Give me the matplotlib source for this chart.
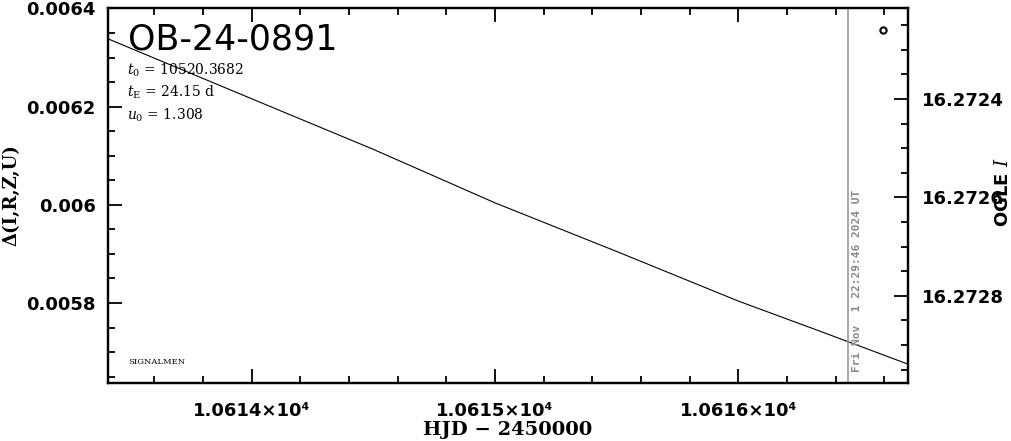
import numpy as np
import matplotlib
matplotlib.use('Agg')
import matplotlib.pyplot as plt
from matplotlib.ticker import MultipleLocator, FuncFormatter, FormatStrFormatter

# ===== data =====
event = "OB-24-0891"
t0_txt = "10520.3682"
tE_txt = "24.15"
u0_txt = "1.308"

# model curve (HJD-2450000, delta)
model_t = [10613.41, 10614.0, 10614.5, 10615.0, 10615.5, 10616.0, 10616.35, 10616.70]
model_d = [0.006338, 0.006216, 0.006113, 0.006004, 0.005905, 0.005804, 0.005740, 0.005675]

# OGLE I point
obs_t = [10616.595]
obs_mag = [16.27226]

now_t = 10616.453
now_label = "Fri Nov  1 22:29:46 2024 UT"

xlim = (10613.409, 10616.698)
ylim_d = (0.005637, 0.006401)
ylim_mag = (16.272977, 16.272215)

plt.rcParams['font.family'] = ['DejaVu Sans']
plt.rcParams['mathtext.fontset'] = 'dejavuserif'

fig = plt.figure(figsize=(10.11, 4.41), dpi=100)
ax = fig.add_axes([108/1011, 58/441, 800/1011, 375/441])
ax2 = ax.twinx()

ax.plot(model_t, model_d, color='black', lw=0.8)
ax.axvline(now_t, color='#999999', lw=1.2)
ax2.plot(obs_t, obs_mag, 'o', mfc='white', mec='black', mew=1.5, ms=4.5)

ax.set_xlim(*xlim)
ax.set_ylim(*ylim_d)
ax2.set_ylim(*ylim_mag)

ax.xaxis.set_major_locator(MultipleLocator(1.0))
ax.xaxis.set_minor_locator(MultipleLocator(0.2))
ax.yaxis.set_major_locator(MultipleLocator(0.0002))
ax.yaxis.set_minor_locator(MultipleLocator(0.00005))
ax2.yaxis.set_major_locator(MultipleLocator(0.0002))
ax2.yaxis.set_minor_locator(MultipleLocator(0.00005))

ax.xaxis.set_major_formatter(FuncFormatter(lambda v, p: f"{v/1e4:.4f}×10⁴"))
ax.yaxis.set_major_formatter(FuncFormatter(lambda v, p: f"{v:.4f}".rstrip('0')))
ax2.yaxis.set_major_formatter(FormatStrFormatter('%.4f'))

ax.tick_params(which='both', direction='in', top=True, right=False, width=1.3)
ax.tick_params(which='major', length=10)
ax.tick_params(which='minor', length=5)
ax.tick_params(axis='x', which='major', pad=14, labelsize=13)
ax.tick_params(axis='y', which='major', pad=9, labelsize=13)
ax2.tick_params(which='both', direction='in', right=True, width=1.3)
ax2.tick_params(which='major', length=10, pad=10, labelsize=13)
ax2.tick_params(which='minor', length=5)
for lab in ax.get_xticklabels() + ax.get_yticklabels() + ax2.get_yticklabels():
    lab.set_fontweight('bold')

for a in (ax, ax2):
    for s in a.spines.values():
        s.set_linewidth(1.6)

ax.set_xlabel("HJD − 2450000", fontsize=14, fontweight='bold', family='DejaVu Serif')
ax.xaxis.set_label_coords(0.5, -0.102)
ax.set_ylabel("Δ(I,R,Z,U)", fontsize=13, fontweight='bold', family='DejaVu Serif')
ax.yaxis.set_label_coords(-0.11, 0.5)
ax2.set_ylabel("OGLE $I$", fontsize=13, fontweight='bold')
ax2.yaxis.set_label_coords(1.107, 0.51)

ax.text(0.025, 0.915, event, transform=ax.transAxes, fontsize=25, va='center')
ax.text(0.024, 0.835, rf"$t_0$ = {t0_txt}", transform=ax.transAxes, fontsize=10,
        va='center', family='DejaVu Serif')
ax.text(0.024, 0.775, rf"$t_\mathrm{{E}}$ = {tE_txt} d", transform=ax.transAxes, fontsize=10,
        va='center', family='DejaVu Serif')
ax.text(0.024, 0.715, rf"$u_0$ = {u0_txt}", transform=ax.transAxes, fontsize=10,
        va='center', family='DejaVu Serif')
ax.text(0.025, 0.055, "SIGNALMEN", transform=ax.transAxes, fontsize=6, va='center',
        family='DejaVu Serif')
ax.text(now_t + 0.035, 0.030, now_label, transform=ax.get_xaxis_transform(), rotation=90,
        fontsize=8, fontweight='bold', color='#888888', family='DejaVu Sans Mono',
        ha='center', va='bottom')

fig.savefig('out.png', dpi=100)
